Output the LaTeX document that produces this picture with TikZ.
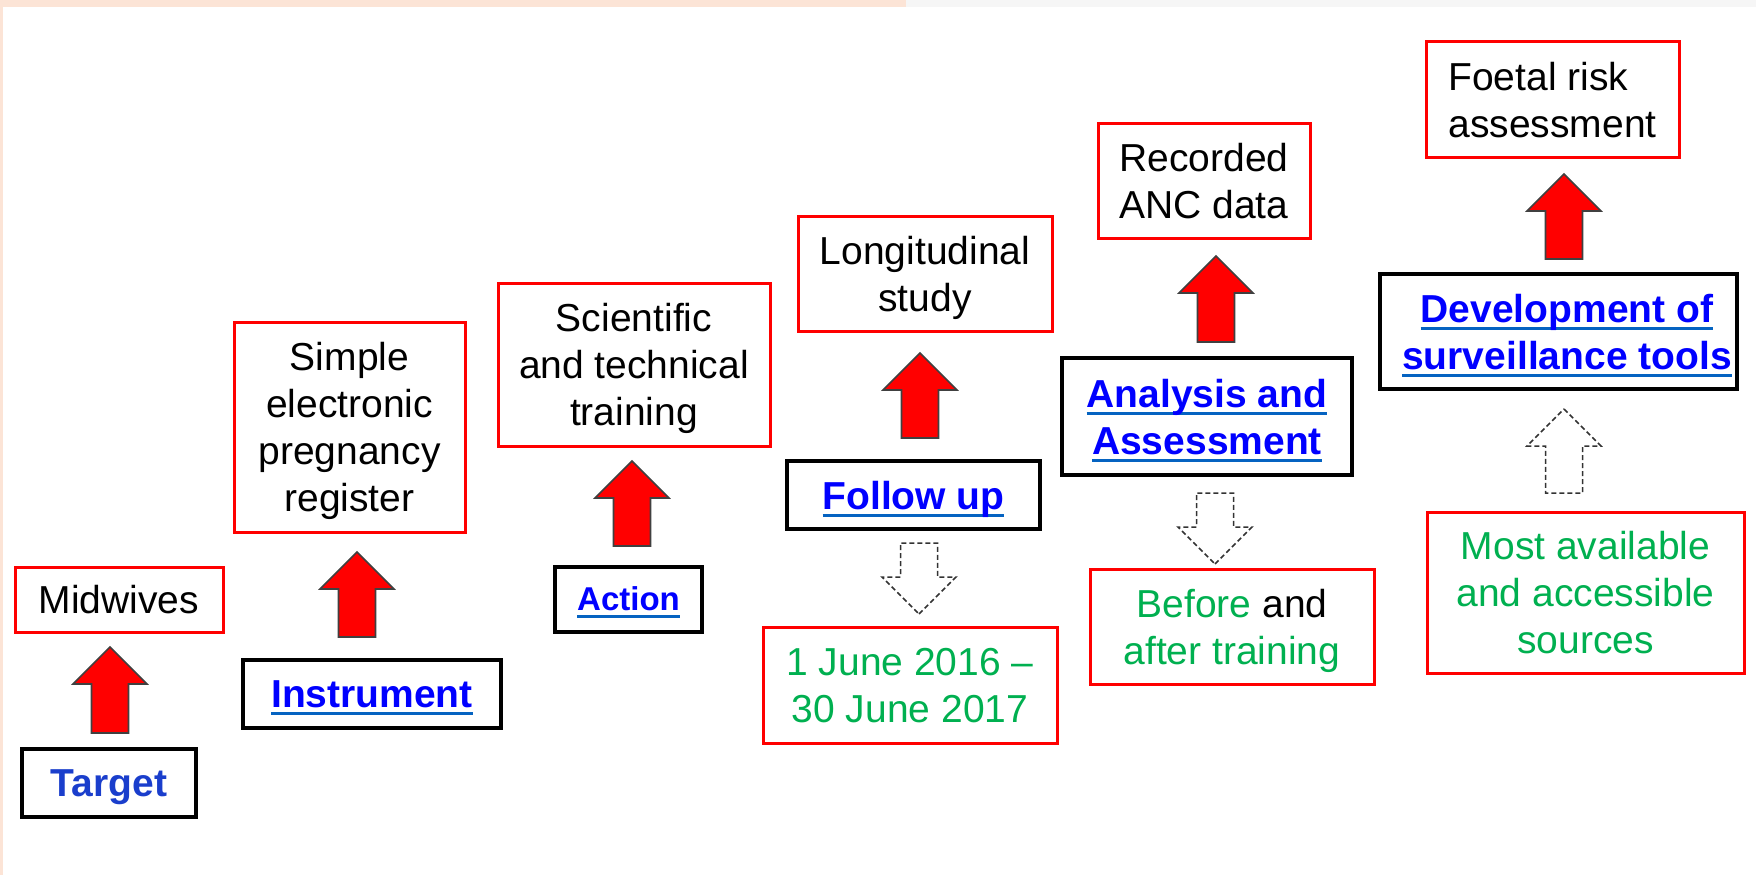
\documentclass[tikz,border=0pt]{standalone}
\usepackage{fontspec}
\setmainfont{Liberation Sans}
\definecolor{peach}{HTML}{FCE4D6}
\definecolor{lgray}{HTML}{F6F6F6}
\definecolor{boxred}{HTML}{FF0000}
\definecolor{linkblue}{HTML}{0000FF}
\definecolor{ulblue}{HTML}{0563C1}
\definecolor{tgtblue}{HTML}{1A3ECC}
\definecolor{ogreen}{HTML}{00B050}
\newcommand\regfont{\fontsize{39pt}{47pt}\selectfont}
\newcommand\smallbold{\fontsize{33pt}{40pt}\selectfont\bfseries}
\newcommand\ulk[1]{\setbox0\hbox{#1}\rlap{\smash{\color{ulblue}\rule[-8pt]{\wd0}{3pt}}}\box0}
\newcommand\ulks[1]{\setbox0\hbox{#1}\rlap{\smash{\color{ulblue}\rule[-7pt]{\wd0}{2.5pt}}}\box0}
% block arrows: #1 style, #2 centre x, #3 tip y, #4 tail y
\newcommand\blockup[4]{\draw[#1] (#2,#3) -- ++(37,37) -- ++(-18.5,0) -- (#2+18.5,#4) -- (#2-18.5,#4) -- (#2-18.5,#3+37) -- ++(-18.5,0) -- cycle;}
\newcommand\blockdown[4]{\draw[#1] (#2,#3) -- ++(37,-37) -- ++(-18.5,0) -- (#2+18.5,#4) -- (#2-18.5,#4) -- (#2-18.5,#3-37) -- ++(-18.5,0) -- cycle;}
\begin{document}
\begin{tikzpicture}[x=1pt,y=-1pt,
  redbox/.style={draw=boxred, line width=3pt, fill=white, inner sep=0pt, align=center, font=\regfont, text depth=0pt},
  blkbox/.style={draw=black, line width=4pt, fill=white, inner sep=0pt, align=center, font=\regfont\bfseries, text=linkblue, text depth=0pt},
  plainbox/.style={draw=black, line width=4pt, fill=white, inner sep=0pt},
  linktext/.style={inner sep=0pt, align=center, font=\regfont\bfseries, text=linkblue, text depth=0pt},
  redarrow/.style={fill=red, draw=black!75, line width=1.6pt, line join=miter},
  dasharrow/.style={fill=white, draw=black!80, line width=1.5pt, dash pattern=on 5pt off 3pt, line join=miter}]
\useasboundingbox (0,0) rectangle (1756,875);
\fill[white] (0,0) rectangle (1756,875);
\fill[peach] (0,0) rectangle (906,7);
\fill[peach] (0,0) rectangle (3,875);
\fill[lgray] (906,0) rectangle (1756,7);

% boxes
\node[redbox, minimum width=208pt, minimum height=65pt] (midwives) at (119,599.5) {Midwives};
\node[blkbox, minimum width=174pt, minimum height=68pt, text=tgtblue] (target) at (109,783) {Target};
\node[blkbox, minimum width=258pt, minimum height=68pt] (instrument) at (372,694) {\ulk{Instrument}};
\node[redbox, minimum width=231pt, minimum height=210pt] (simple) at (349.5,427) {Simple\\electronic\\pregnancy\\register};
\node[blkbox, minimum width=147pt, minimum height=65pt, font=\smallbold] (action) at (628.5,599) {\ulks{Action}};
\node[redbox, minimum width=272pt, minimum height=163pt] (scientific) at (634,364.5) {Scientific\\and technical\\training};
\node[redbox, minimum width=254pt, minimum height=115pt] (longitudinal) at (925,273.5) {Longitudinal\\study};
\node[blkbox, minimum width=253pt, minimum height=68pt] (followup) at (913.5,495) {\ulk{Follow up}};
\node[redbox, minimum width=294pt, minimum height=116pt, text=ogreen] (dates) at (910,685) {1 June 2016 –\\30 June 2017};
\node[redbox, minimum width=212pt, minimum height=115pt] (recorded) at (1204,180.5) {Recorded\\ANC data};
\node[blkbox, minimum width=290pt, minimum height=117pt] (analysis) at (1207,416.5) {\ulk{Analysis and}\\\ulk{Assessment}};
\node[redbox, minimum width=284pt, minimum height=115pt, text=ogreen] (before) at (1232,626.5) {Before \textcolor{black}{and}\\after training};
\node[redbox, minimum width=253pt, minimum height=115pt, align=left] (foetal) at (1552.5,99.5) {Foetal risk\\assessment};
\node[plainbox, minimum width=357pt, minimum height=115pt] (development) at (1558.5,331.5) {};
\node[linktext] (devtext) at (1567,331.5) {\ulk{Development of}\\\ulk{surveillance tools}};
\node[redbox, minimum width=317pt, minimum height=161pt, text=ogreen] (sources) at (1585.5,592.5) {Most available\\and accessible\\sources};

% solid red block arrows
\blockup{redarrow}{110}{647}{733}
\blockup{redarrow}{357}{552}{637}
\blockup{redarrow}{632}{461}{546}
\blockup{redarrow}{920}{353}{438}
\blockup{redarrow}{1216}{256}{342}
\blockup{redarrow}{1564}{174}{259}
% dashed white block arrows
\blockdown{dasharrow}{919}{614}{543}
\blockdown{dasharrow}{1215}{564}{493}
\blockup{dasharrow}{1564}{409}{493}
\end{tikzpicture}
\end{document}
